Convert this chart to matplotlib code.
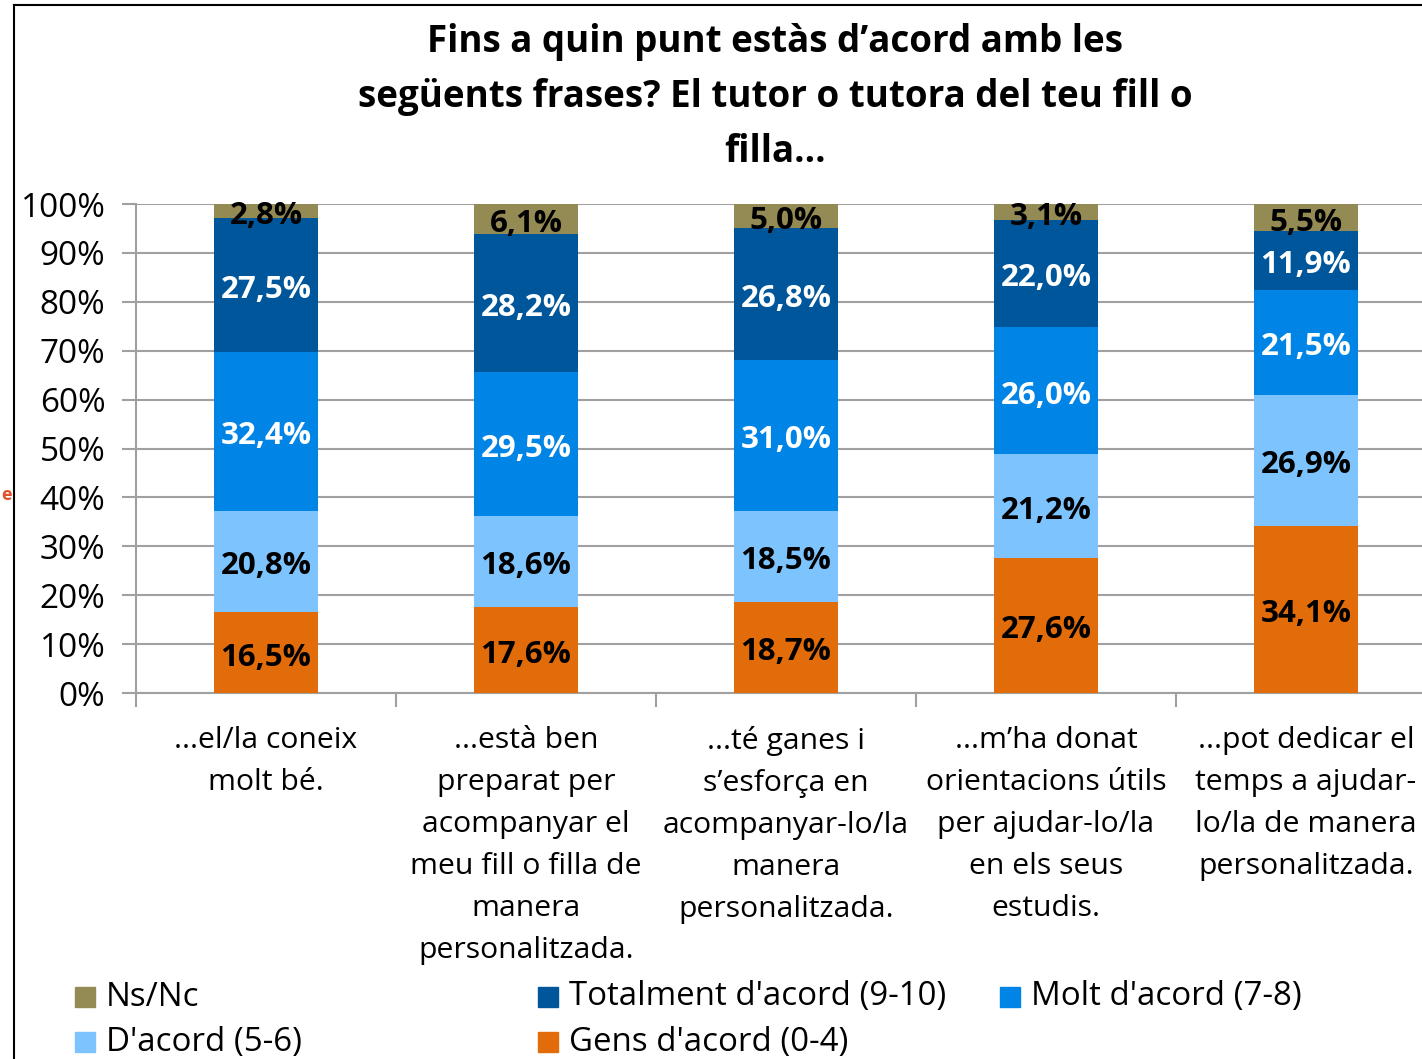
import numpy as np
import matplotlib
matplotlib.use("Agg")
import matplotlib.pyplot as plt
from matplotlib.lines import Line2D
from matplotlib.patches import Rectangle

plt.rcParams['font.family'] = ['Open Sans', 'DejaVu Sans']

categories = [
    "...el/la coneix\nmolt bé.",
    "...està ben\npreparat per\nacompanyar el\nmeu fill o filla de\nmanera\npersonalitzada.",
    "...té ganes i\ns’esforça en\nacompanyar-lo/la\nmanera\npersonalitzada.",
    "...m’ha donat\norientacions útils\nper ajudar-lo/la\nen els seus\nestudis.",
    "...pot dedicar el\ntemps a ajudar-\nlo/la de manera\npersonalitzada.",
]
gens = [16.5, 17.6, 18.7, 27.6, 34.1]
dacord = [20.8, 18.6, 18.5, 21.2, 26.9]
molt = [32.4, 29.5, 31.0, 26.0, 21.5]
totalment = [27.5, 28.2, 26.8, 22.0, 11.9]
nsnc = [2.8, 6.1, 5.0, 3.1, 5.5]

series = [
    ("Gens d'acord (0-4)", gens, "#E36C0A", "black"),
    ("D'acord (5-6)", dacord, "#7DC4FF", "black"),
    ("Molt d'acord (7-8)", molt, "#0084E6", "white"),
    ("Totalment d'acord (9-10)", totalment, "#00569A", "white"),
    ("Ns/Nc", nsnc, "#948A54", "black"),
]

W, H = 1422, 1059
fig = plt.figure(figsize=(W / 100, H / 100), dpi=100)

# axes in pixel layout
left, right, top, bottom = 136, 1436, 204, 693
ax = fig.add_axes([left / W, 1 - bottom / H, (right - left) / W, (bottom - top) / H])

x = np.arange(len(categories))
base = np.zeros(len(categories))
for name, vals, color, tcol in series:
    vals = np.array(vals)
    ax.bar(x, vals, width=0.4, bottom=base, color=color, zorder=3)
    for xi, b, v in zip(x, base, vals):
        ax.annotate(f"{v:.1f}%".replace(".", ","), (xi, b + v / 2), xytext=(0, -3.5),
                    textcoords="offset points", ha="center", va="center",
                    color=tcol, fontsize=22.5, fontweight="bold", zorder=4)
    base = base + vals

ax.set_xlim(-0.5, len(categories) - 0.5)
ax.set_ylim(0, 100)
ax.set_yticks(np.arange(0, 101, 10))
ax.set_yticklabels([f"{v}%" for v in range(0, 101, 10)], fontsize=24)
ax.yaxis.grid(True, color="#A0A0A0", linewidth=1.5, zorder=0)
ax.set_xticks(np.arange(-0.5, len(categories), 1.0))
ax.set_xticklabels([])
ax.set_xticks(x, minor=True)
ax.set_xticklabels(categories, minor=True, fontsize=21.7, linespacing=1.59, va="top")
ax.tick_params(axis="x", which="minor", length=0, pad=24)
ax.tick_params(axis="x", which="major", length=10, width=1.5, color="#A0A0A0", direction="out")
ax.tick_params(axis="y", length=10, width=1.5, color="#A0A0A0", direction="out", pad=12)
for s in ["top", "right"]:
    ax.spines[s].set_visible(False)
for s in ["left", "bottom"]:
    ax.spines[s].set_color("#A0A0A0")
    ax.spines[s].set_linewidth(1.5)

fig.text(775 / W, 1 - 97 / H,
         "Fins a quin punt estàs d’acord amb les\nsegüents frases? El tutor o tutora del teu fill o\nfilla...",
         ha="center", va="center", fontsize=26.5, fontweight="bold", linespacing=1.6)

# chart frame (left and top border)
fig.add_artist(Line2D([14 / W, 14 / W], [0, 1 - 5 / H], color="black", linewidth=1.5))
fig.add_artist(Line2D([14 / W, 1], [1 - 5 / H, 1 - 5 / H], color="black", linewidth=1.5))

# fragment on left edge
fig.text(1 / W, 1 - 495 / H, "e", color="#E0502F", fontsize=13, fontweight="bold",
         ha="left", va="center")

# legend
legend_items = [
    ("Ns/Nc", 75, 997), ("Totalment d'acord (9-10)", 538, 997), ("Molt d'acord (7-8)", 1000, 997),
    ("D'acord (5-6)", 75, 1042), ("Gens d'acord (0-4)", 538, 1042),
]
colors = {name: color for name, vals, color, tcol in series}
for name, px, py in legend_items:
    fig.add_artist(Rectangle((px / W, 1 - (py + 10) / H), 20 / W, 20 / H,
                             color=colors[name], transform=fig.transFigure))
    fig.text((px + 31) / W, 1 - py / H, name, fontsize=23.8, ha="left", va="center")

fig.savefig("out.png", dpi=100)
